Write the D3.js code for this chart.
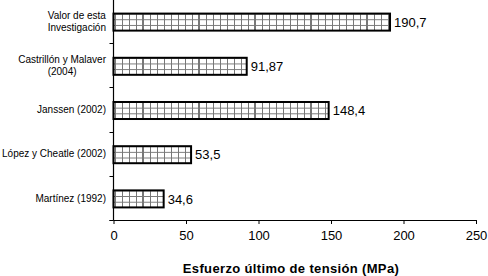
<!DOCTYPE html>
<html><head><meta charset="utf-8">
<script src="https://cdn.jsdelivr.net/npm/d3@7"></script>
<style>
body{margin:0;background:#fff;}
svg{display:block;font-family:"Liberation Sans",Arial,sans-serif;}
</style></head>
<body><svg id="c" width="488" height="276"></svg>
<script>
const categories = [["Valor de esta","Investigación"],["Castrillón y Malaver","(2004)"],["Janssen (2002)"],["López y Cheatle (2002)"],["Martínez (1992)"]];
const values = [190.7, 91.87, 148.4, 53.5, 34.6];
const valueLabels = ["190,7","91,87","148,4","53,5","34,6"];
const xTicks = [0,50,100,150,200,250];
const xTitle = "Esfuerzo último de tensión (MPa)";

const svg = d3.select("#c");
const x = d3.scaleLinear().domain([0,250]).range([113.5,476]);
const y = d3.scaleBand().domain(d3.range(categories.length)).range([0,221]).paddingInner(0.615).paddingOuter(0.3075);

const defs = svg.append("defs");
values.forEach((v,i)=>{
  const h = y.bandwidth()/3;
  const p = defs.append("pattern").attr("id","pat"+i).attr("patternUnits","userSpaceOnUse")
    .attr("x",143).attr("y",y(i)).attr("width",56).attr("height",h);
  p.append("rect").attr("width",56).attr("height",h).attr("fill","#fff");
  p.append("line").attr("x1",0).attr("x2",56).attr("y1",0.5).attr("y2",0.5).attr("stroke","#777").attr("stroke-width",1);
  for(let k=1;k<8;k++){
    p.append("line").attr("x1",k*7+0.5).attr("x2",k*7+0.5).attr("y1",0).attr("y2",h).attr("stroke","#777").attr("stroke-width",1);
  }
  p.append("rect").attr("x",-1).attr("y",0).attr("width",2).attr("height",h).attr("fill","#777");
  p.append("rect").attr("x",55).attr("y",0).attr("width",2).attr("height",h).attr("fill","#777");
});

// bars
svg.selectAll("rect.bar").data(values).join("rect").attr("class","bar")
  .attr("x",x(0)).attr("y",(d,i)=>y(i)).attr("width",d=>x(d)-x(0)).attr("height",y.bandwidth())
  .attr("fill",(d,i)=>"url(#pat"+i+")").attr("stroke","#000").attr("stroke-width",2);

// value labels
svg.selectAll("text.val").data(values).join("text").attr("class","val")
  .attr("x",d=>x(d)+4).attr("y",(d,i)=>y(i)+y.bandwidth()/2).attr("dy","0.36em")
  .attr("font-size",13).text((d,i)=>valueLabels[i]);

// y axis
svg.append("line").attr("x1",x(0)).attr("x2",x(0)).attr("y1",0).attr("y2",220.5).attr("stroke","#000").attr("stroke-width",1.2);
for(let i=1;i<=categories.length;i++){
  const yy = Math.round(y.step()*i)-0.5;
  svg.append("line").attr("x1",x(0)-4).attr("x2",x(0)).attr("y1",yy).attr("y2",yy).attr("stroke","#000");
}
// category labels
categories.forEach((lines,i)=>{
  const g = svg.append("g");
  const lh = 12.5;
  const cy = y(i)+y.bandwidth()/2 - 0.8;
  const ts = lines.map((t,j)=>g.append("text").attr("font-size",10).attr("y",cy+(j-(lines.length-1)/2)*lh).attr("dy","0.35em").text(t));
  const maxW = d3.max(ts,t=>t.node().getComputedTextLength());
  const cx = 106 - maxW/2;
  ts.forEach(t=>t.attr("x",cx).attr("text-anchor","middle"));
});

// x axis
const xa = svg.append("g").attr("transform","translate(0,220)")
  .call(d3.axisBottom(x).tickValues(xTicks).tickSize(4).tickSizeOuter(0).tickFormat(d3.format("d")));
xa.select(".domain").attr("stroke-width",1.2);
xa.selectAll("text").attr("font-size",13).attr("font-family","Liberation Sans, Arial, sans-serif").attr("dy","0.71em").attr("y",11);
svg.append("line").attr("x1",x(0)-4).attr("x2",x(0)).attr("y1",220.5).attr("y2",220.5).attr("stroke","#000");

svg.append("text").attr("x",291).attr("y",268).attr("dy","0.35em").attr("text-anchor","middle")
  .attr("font-size",13).attr("font-weight","bold").attr("letter-spacing","0.35px").text(xTitle);
</script></body></html>
